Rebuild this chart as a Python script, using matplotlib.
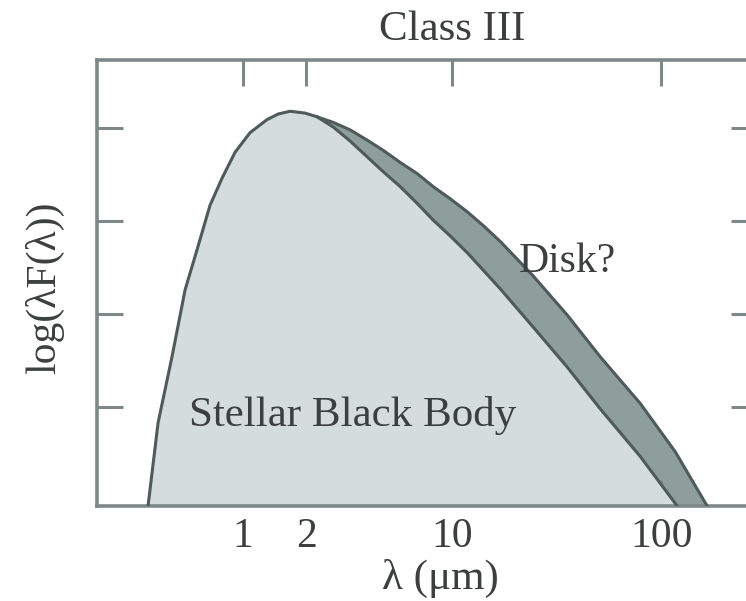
import numpy as np
import matplotlib
matplotlib.use('Agg')
import matplotlib.pyplot as plt

#%% 데이터

# Stellar black body : 파장(um), log(lambda F)
star_lam = [0.351, 0.392, 0.457, 0.528, 0.602, 0.695, 0.793, 0.916, 1.080, 1.302,
            1.47, 1.679, 1.98, 2.26, 2.70, 3.25, 3.92, 4.68, 5.64, 6.80,
            8.11, 9.78, 11.8, 14.1, 17.0, 24.4, 35.5, 51.1, 79.3, 119.3]
star_val = [-0.065, 0.83, 1.54, 2.26, 2.69, 3.17, 3.46, 3.74, 3.95, 4.09,
            4.15, 4.18, 4.16, 4.12, 4.01, 3.86, 3.69, 3.53, 3.37, 3.19,
            3.01, 2.84, 2.66, 2.47, 2.27, 1.86, 1.43, 0.98, 0.47, -0.065]

# Disk 포함 (외곽선)
disk_lam = [2.26, 2.70, 3.25, 3.92, 4.68, 5.64, 6.80, 8.11, 9.78, 11.8,
            14.1, 17.0, 24.4, 35.5, 51.1, 79.3, 116.7, 166.0]
disk_val = [4.12, 4.06, 3.98, 3.87, 3.76, 3.63, 3.51, 3.37, 3.24, 3.10,
            2.95, 2.78, 2.41, 1.99, 1.54, 1.04, 0.52, -0.065]

tick_pos = [1, 2, 10, 100]
tick_lab = ['1', '2', '10', '100']
ytick_pos = [1, 2, 3, 4]

#%% 스타일

light = '#d5dcdc'
dark = '#8d9e9d'
edge = '#4f5a5a'
spine_c = '#7f8888'
txt_c = '#3c3f3f'

plt.rcParams['font.family'] = ['Liberation Serif', 'DejaVu Serif']

fig = plt.figure(figsize=(7.46, 6.01), dpi=100)
ax = fig.add_axes([0.130, 0.158, 0.885, 0.742])

ybot = -0.065
ax.set_xscale('log')
ax.set_xlim(0.2, 288)
ax.set_ylim(ybot, 4.73)

# disk 영역 먼저 -> stellar 로 덮기
ax.fill_between(disk_lam, ybot, disk_val, color=dark, lw=0, zorder=1)
ax.fill_between(star_lam, ybot, star_val, color=light, lw=0, zorder=2)
ax.plot(disk_lam, disk_val, color=edge, lw=2.2, zorder=3)
ax.plot(star_lam, star_val, color=edge, lw=2.2, zorder=3)

#%% 축

for s in ax.spines.values():
    s.set_color(spine_c)
    s.set_linewidth(2.6)

ax.set_xticks(tick_pos)
ax.set_xticklabels(tick_lab)
ax.xaxis.set_minor_locator(matplotlib.ticker.NullLocator())
ax.set_yticks(ytick_pos)
ax.set_yticklabels([])
ax.tick_params(direction='in', length=19, width=2.2, color=spine_c,
               top=True, right=True, labelsize=30, labelcolor=txt_c, pad=8)

ax.text(35.5, 2.56, 'Disk?', fontsize=30, color=txt_c, ha='center', va='center', zorder=4)
ax.text(3.36, 0.91, 'Stellar Black Body', fontsize=31, color=txt_c, ha='center', va='center', zorder=4)

fig.text(452/746, 1-30/601, 'Class III', fontsize=31, color=txt_c, ha='center', va='center')
fig.text(440/746, 1-578/601, 'λ (μm)', fontsize=31, color=txt_c, ha='center', va='center')
fig.text(45/746, 1-288/601, 'log(λF(λ))', fontsize=30, color=txt_c, ha='center', va='center', rotation=90)

plt.savefig('out.png', dpi=100)
